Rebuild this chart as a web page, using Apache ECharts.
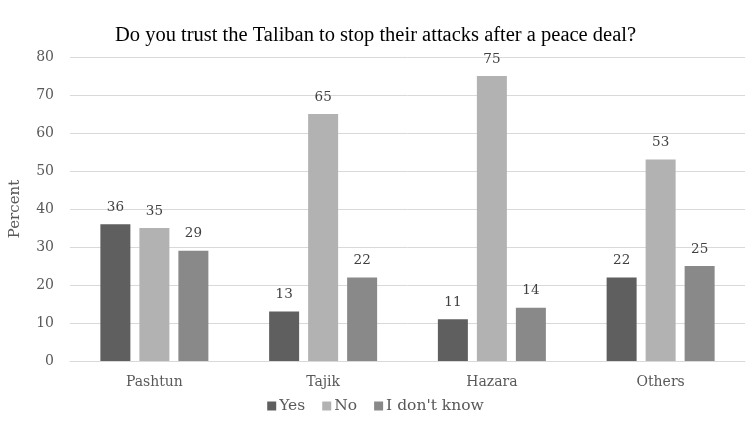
<!DOCTYPE html>
<html>
<head>
<meta charset="utf-8">
<script src="https://cdn.jsdelivr.net/npm/echarts@6/dist/echarts.min.js"></script>
<style>
  html, body { margin: 0; padding: 0; background: #fff; }
  #chart { width: 751px; height: 427px; }
</style>
</head>
<body>
<div id="chart"></div>
<script>
var groups = ['Pashtun', 'Tajik', 'Hazara', 'Others'];
var yes = [36, 13, 11, 22];
var no = [35, 65, 75, 53];
var dontKnow = [29, 22, 14, 25];

var serif = '"DejaVu Serif", "Liberation Serif", serif';
var chart = echarts.init(document.getElementById('chart'));

function bar(name, data, color) {
  return {
    name: name,
    type: 'bar',
    data: data,
    barWidth: 30,
    barGap: '30%',
    itemStyle: { color: color },
    label: {
      show: true,
      position: 'top',
      distance: 10,
      color: '#404040',
      fontFamily: serif,
      fontSize: 13.5
    }
  };
}

chart.setOption({
  animation: false,
  title: {
    text: 'Do you trust the Taliban to stop their attacks after a peace deal?',
    left: 'center',
    top: 20,
    textStyle: { fontFamily: '"Liberation Serif", serif', fontWeight: 'normal', fontSize: 20.5, color: '#000' }
  },
  grid: { left: 67, right: 6, top: 57, bottom: 66 },
  legend: {
    bottom: 8,
    left: 'center',
    itemWidth: 9,
    itemHeight: 9,
    itemGap: 17,
    icon: 'rect',
    textStyle: { fontFamily: serif, fontSize: 15.5, color: '#595959', padding: [0, 0, 0, -2] },
    data: ['Yes', 'No', "I don't know"]
  },
  xAxis: {
    type: 'category',
    data: groups,
    axisTick: { show: false },
    axisLine: { lineStyle: { color: '#d9d9d9', width: 1 } },
    axisLabel: { fontFamily: serif, fontSize: 14, color: '#595959', margin: 14 }
  },
  yAxis: {
    type: 'value',
    min: 0,
    max: 80,
    interval: 10,
    name: 'Percent',
    nameLocation: 'middle',
    nameGap: 47,
    nameTextStyle: { fontFamily: serif, fontSize: 15, color: '#595959' },
    axisLabel: { fontFamily: serif, fontSize: 14, color: '#595959', margin: 16 },
    splitLine: { lineStyle: { color: '#d9d9d9', width: 1 } }
  },
  series: [
    bar('Yes', yes, '#5f5f5f'),
    bar('No', no, '#b2b2b2'),
    bar("I don't know", dontKnow, '#898989')
  ]
});
</script>
</body>
</html>
